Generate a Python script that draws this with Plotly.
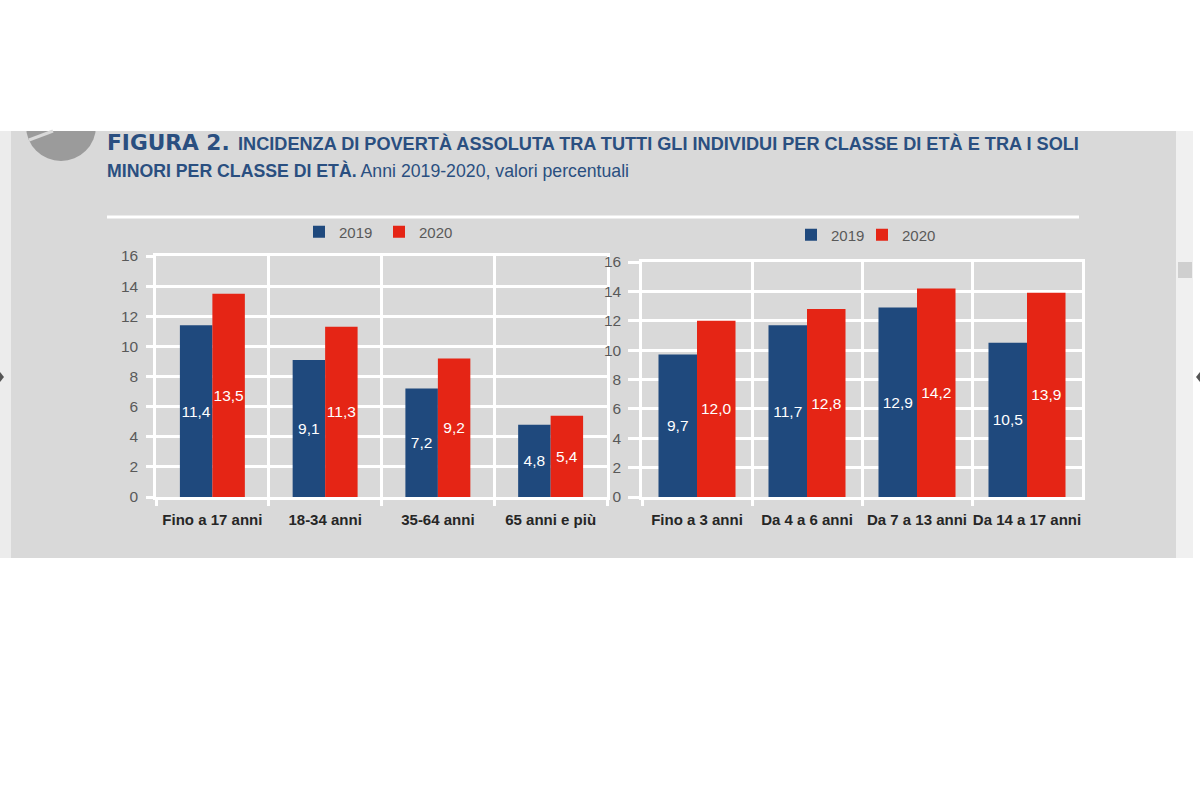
import plotly.graph_objects as go

# ---- data ----
years = ["2019", "2020"]
left_categories = ["Fino a 17 anni", "18-34 anni", "35-64 anni", "65 anni e più"]
left_2019 = [11.4, 9.1, 7.2, 4.8]
left_2020 = [13.5, 11.3, 9.2, 5.4]
right_categories = ["Fino a 3 anni", "Da 4 a 6 anni", "Da 7 a 13 anni", "Da 14 a 17 anni"]
right_2019 = [9.7, 11.7, 12.9, 10.5]
right_2020 = [12.0, 12.8, 14.2, 13.9]
y_ticks = [0, 2, 4, 6, 8, 10, 12, 14, 16]

title_1a = "FIGURA 2."
title_1b = "INCIDENZA DI POVERTÀ ASSOLUTA TRA TUTTI GLI INDIVIDUI PER CLASSE DI ETÀ E TRA I SOLI"
title_2a = "MINORI PER CLASSE DI ETÀ."
title_2b = " Anni 2019-2020, valori percentuali"

# ---- styles ----
W, H = 1200, 800
BLUE, RED = "#1f497d", "#e52515"
PANEL = "#d9d9d9"
NAVY = "#2a4f80"
SANS = "Liberation Sans"


def fx(p):
    return p / W


def fy(p):
    return 1 - p / H


def add_bars(name, x, y, color, xa, ya, legend, width):
    fig.add_trace(go.Bar(
        name=name, x=x, y=y, marker=dict(color=color, line=dict(width=0)),
        xaxis=xa, yaxis=ya, legend=legend, width=width,
        offset=-width if name == years[0] else 0,
        texttemplate="%{y:.1f}", textposition="inside", insidetextanchor="middle",
        textangle=0, constraintext="none",
        textfont=dict(color="white", family=SANS, size=15.5),
        hoverinfo="x+y",
    ))


fig = go.Figure()
add_bars(years[0], left_categories, left_2019, BLUE, "x", "y", "legend", 0.288)
add_bars(years[1], left_categories, left_2020, RED, "x", "y", "legend", 0.288)
add_bars(years[0], right_categories, right_2019, BLUE, "x2", "y2", "legend2", 0.35)
add_bars(years[1], right_categories, right_2020, RED, "x2", "y2", "legend2", 0.35)


def xaxis(domain, anchor, font):
    return dict(
        domain=[fx(domain[0]), fx(domain[1])], anchor=anchor, type="category",
        tickson="boundaries", ticks="outside", ticklen=6, tickwidth=2.5, tickcolor="white",
        showgrid=True, gridcolor="white", gridwidth=2.5, tickangle=0, automargin=False,
        showline=True, linecolor="white", linewidth=2.5, zeroline=False, mirror=True,
        ticklabelstandoff=7, tickfont=font, fixedrange=True,
    )


def yaxis(domain, anchor, font, ticklen, standoff):
    return dict(
        domain=[fy(domain[1]), fy(domain[0])], anchor=anchor, range=[0, 16],
        tickvals=y_ticks, ticks="outside", ticklen=ticklen, tickwidth=2.5, tickcolor="white",
        showgrid=True, gridcolor="white", gridwidth=2.5, automargin=False,
        showline=True, linecolor="white", linewidth=2.5, zeroline=False, mirror=True,
        ticklabelstandoff=standoff, tickfont=font, fixedrange=True,
    )


tick_font = dict(family=SANS, size=15.5, color="#595959")
cat_font = dict(family=SANS, size=15, color="#262626", weight=700)

shapes = [
    # panel and the page strips around it
    dict(type="rect", x0=fx(0), x1=fx(11), y0=fy(131), y1=fy(558), fillcolor="#ececec"),
    dict(type="rect", x0=fx(11), x1=fx(1176), y0=fy(131), y1=fy(558), fillcolor=PANEL),
    dict(type="rect", x0=fx(1176), x1=fx(1193), y0=fy(131), y1=fy(558), fillcolor="#f0f0f0"),
    dict(type="rect", x0=fx(1178), x1=fx(1192), y0=fy(262), y1=fy(278), fillcolor="#cfcfcf"),
    # cropped round emblem
    dict(type="circle", x0=fx(26), x1=fx(96), y0=fy(91), y1=fy(161), fillcolor="#9b9b9b"),
    dict(type="rect", x0=fx(0), x1=fx(1200), y0=fy(0), y1=fy(131), fillcolor="white"),
    dict(type="line", x0=fx(29), x1=fx(53), y0=fy(140), y1=fy(131),
         line=dict(color=PANEL, width=3)),
    # white rule beneath the title
    dict(type="line", x0=fx(107), x1=fx(1079), y0=fy(217), y1=fy(217),
         line=dict(color="white", width=3)),
    # page scroll arrows
    dict(type="path", path=f"M {fx(0)} {fy(372)} L {fx(4)} {fy(377)} L {fx(0)} {fy(382)} Z",
         fillcolor="#555555"),
    dict(type="path", path=f"M {fx(1200)} {fy(372)} L {fx(1196)} {fy(377)} L {fx(1200)} {fy(382)} Z",
         fillcolor="#555555"),
]
for s in shapes:
    s.setdefault("xref", "paper")
    s.setdefault("yref", "paper")
    s.setdefault("layer", "below")
    if s["type"] != "line":
        s.setdefault("line", dict(width=0))


def note(text, x, y, font):
    return dict(text=text, x=fx(x), y=fy(y), xref="paper", yref="paper", showarrow=False,
                xanchor="left", yanchor="middle", align="left", font=font)


annotations = [
    note(f"<b>{title_1a}</b>", 105, 143, dict(family="DejaVu Sans", size=21.7, color=NAVY)),
    note(f"<b>{title_1b}</b>", 236, 144, dict(family=SANS, size=18.15, color=NAVY)),
    note(f"<b>{title_2a}</b>" + title_2b, 105, 170, dict(family=SANS, size=17.7, color=NAVY)),
]


def legend(x, y, entrywidth):
    return dict(orientation="h", x=fx(x), y=fy(y), xanchor="left", yanchor="middle",
                bgcolor="rgba(0,0,0,0)", font=dict(family=SANS, size=15, color="#595959"),
                indentation=-10, entrywidth=entrywidth, entrywidthmode="pixels",
                itemclick=False, itemdoubleclick=False)


fig.update_layout(
    width=W, height=H, autosize=False, margin=dict(l=0, r=0, t=0, b=0),
    paper_bgcolor="white", plot_bgcolor=PANEL, barmode="overlay",
    separators=",.", showlegend=True, shapes=shapes, annotations=annotations,
    font=dict(family=SANS),
    xaxis=xaxis([156, 607], "y", cat_font),
    yaxis=yaxis([256, 497], "x", tick_font, 7, 5),
    xaxis2=xaxis([642, 1082], "y2", cat_font),
    yaxis2=yaxis([262, 497], "x2", tick_font, 11, 4),
    legend=legend(309, 232, 45),
    legend2=legend(801, 235, 36),
)
fig.write_html("out.html", config={"displayModeBar": False},
               post_script="document.body.style.margin='0';")
